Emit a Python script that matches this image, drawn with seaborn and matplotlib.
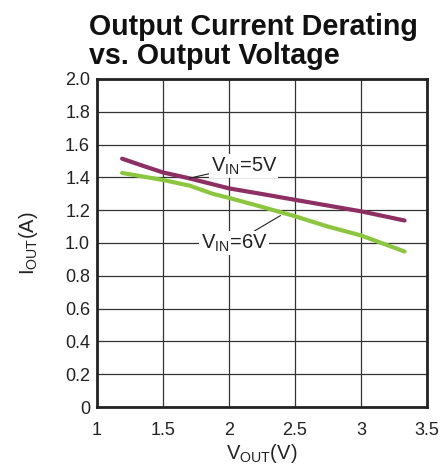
import matplotlib
matplotlib.use("Agg")
import matplotlib.pyplot as plt
import seaborn as sns
import pandas as pd

vout_5v = [1.19, 1.35, 1.5, 1.69, 2.0, 2.29, 2.5, 2.75, 3.0, 3.33]
iout_5v = [1.514, 1.47, 1.43, 1.396, 1.333, 1.293, 1.263, 1.228, 1.193, 1.137]
vout_6v = [1.19, 1.5, 1.7, 1.88, 2.0, 2.25, 2.5, 2.75, 3.0, 3.33]
iout_6v = [1.427, 1.384, 1.35, 1.299, 1.275, 1.22, 1.163, 1.1, 1.046, 0.948]
xticks = [1, 1.5, 2, 2.5, 3, 3.5]
xtick_labels = ["1", "1.5", "2", "2.5", "3", "3.5"]
yticks = [0, 0.2, 0.4, 0.6, 0.8, 1.0, 1.2, 1.4, 1.6, 1.8, 2.0]
ytick_labels = ["0", "0.2", "0.4", "0.6", "0.8", "1.0", "1.2", "1.4", "1.6", "1.8", "2.0"]

sns.set_theme(style="white")
plt.rcParams["font.family"] = ["Liberation Sans", "DejaVu Sans"]
plt.rcParams["mathtext.fontset"] = "custom"
plt.rcParams["mathtext.rm"] = "Liberation Sans"
plt.rcParams["mathtext.it"] = "Liberation Sans"

df = pd.concat([
    pd.DataFrame({"V": vout_5v, "I": iout_5v, "s": "5V"}),
    pd.DataFrame({"V": vout_6v, "I": iout_6v, "s": "6V"}),
])

fig = plt.figure(figsize=(4.45, 4.7), dpi=100)
ax = fig.add_axes([0.218, 0.134, 0.7416, 0.698])
sns.lineplot(data=df, x="V", y="I", hue="s", palette={"5V": "#8E2F63", "6V": "#8CC63F"},
             linewidth=3.0, legend=False, ax=ax, estimator=None, sort=False, zorder=3)

ax.set_xlim(1, 3.5)
ax.set_ylim(0, 2.0)
ax.set_xticks(xticks)
ax.set_xticklabels(xtick_labels)
ax.set_yticks(yticks)
ax.set_yticklabels(ytick_labels)
ax.tick_params(axis="both", length=0, labelsize=13, labelcolor="#222222")
ax.tick_params(axis="y", pad=5)
ax.tick_params(axis="x", pad=11)
ax.grid(True, color="#333333", linewidth=0.9, zorder=1)
for s in ax.spines.values():
    s.set_visible(True)
    s.set_color("#222222")
    s.set_linewidth(2.0)
ax.set_xlabel(r"V$_{\mathrm{OUT}}$(V)", fontsize=14.5, color="#222222", labelpad=2)
ax.set_ylabel(r"I$_{\mathrm{OUT}}$(A)", fontsize=14.5, color="#222222", labelpad=18)

bbox = dict(facecolor="white", edgecolor="none", pad=1.0)
ax.annotate(r"V$_{\mathrm{IN}}$=5V", xy=(1.7, 1.395), xytext=(1.86, 1.47),
            fontsize=14.5, color="#222222", ha="left", va="center", bbox=bbox,
            arrowprops=dict(arrowstyle="-", color="#222222", lw=0.8,
                            shrinkA=0, shrinkB=0), zorder=5)
ax.annotate(r"V$_{\mathrm{IN}}$=6V", xy=(2.39, 1.167), xytext=(2.29, 1.0),
            fontsize=14.5, color="#222222", ha="right", va="center", bbox=bbox,
            arrowprops=dict(arrowstyle="-", color="#222222", lw=0.8,
                            shrinkA=0, shrinkB=0), zorder=5)

fig.text(0.2, 0.973, "Output Current Derating\nvs. Output Voltage", fontsize=20.6,
         fontweight="bold", ha="left", va="top", linespacing=1.08, color="#111111")

fig.savefig("out.png", dpi=100)
